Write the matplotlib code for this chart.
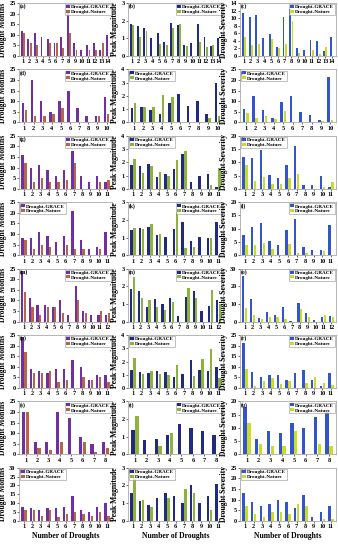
import matplotlib
matplotlib.use("Agg")
import matplotlib.pyplot as plt
import numpy as np

plt.rcParams['font.family'] = ['Liberation Serif', 'DejaVu Serif']
plt.rcParams['font.weight'] = 'bold'

# ---------------- data ----------------
# Row 1 (a,b,c)
a_grace = [12, 8, 11, 9, 8, 6, 9, 21, 6, 3, 5, 6, 3, 10]
a_nature = [11, 6, 5, 0, 6, 6, 4, 11, 3, 0, 3, 3, 6, 0]
b_grace = [1.8, 1.7, 1.6, 1.0, 1.3, 0.8, 1.85, 1.75, 0.6, 0.75, 1.8, 1.05, 0.55, 1.0]
b_nature = [1.75, 1.05, 1.4, 0, 0.7, 0.65, 1.6, 1.8, 0.55, 0, 0.8, 0.5, 0.65, 0]
c_grace = [11.3, 10.2, 10.8, 4.7, 5.7, 2.3, 10.4, 12.5, 2.1, 1.5, 4.2, 4.0, 1.3, 4.9]
c_nature = [5.0, 3.0, 3.1, 0, 4.4, 2.0, 3.1, 9.3, 0.8, 0, 1.5, 0.6, 2.4, 0]
# Row 2 (d,e,f)
d_grace = [9, 20, 10, 5, 10, 15, 7, 3, 3, 12]
d_nature = [6, 3, 3, 4, 7, 0, 0, 0, 3, 4]
e_grace = [1.1, 1.15, 0.95, 0.6, 1.5, 2.15, 1.25, 1.6, 0.6, 3.0]
e_nature = [1.45, 1.15, 1.15, 2.1, 1.95, 0, 0, 0, 0.3, 0.45]
f_grace = [6.2, 12.5, 5.8, 2.0, 9.5, 12.3, 5.0, 3.5, 1.0, 21.5]
f_nature = [4.5, 2.3, 3.0, 1.5, 5.5, 0, 0, 0, 0.5, 1.0]
# Row 3 (g,h,i)
g_grace = [16, 10, 11, 9, 6, 9, 18, 6, 3, 6, 3]
g_nature = [12, 3, 5, 3, 3, 4, 12, 0, 0, 3, 4]
h_grace = [1.8, 1.75, 1.85, 0.9, 1.15, 1.5, 2.6, 0.5, 1.0, 1.15, 0.15]
h_nature = [2.25, 1.2, 1.75, 1.3, 0.95, 2.15, 2.85, 0, 0, 0.25, 1.6]
i_grace = [12, 11.5, 14.5, 5.3, 4.2, 9, 16, 1.5, 1.5, 5, 0.5]
i_nature = [9, 3, 4.5, 2, 2, 4, 5.5, 0, 0, 0.5, 2.5]
# Row 4 (j,k,l)
j_grace = [8, 8, 11, 9, 6, 9, 21, 7, 3, 4, 11]
j_nature = [7, 3, 5, 4, 0, 5, 3, 3, 0, 3, 0]
k_grace = [1.45, 1.55, 1.6, 1.15, 1.05, 1.5, 1.9, 0.8, 1.05, 0.95, 1.9]
k_nature = [1.55, 1.5, 1.75, 1.2, 0, 2.45, 0.4, 0.45, 0, 0.95, 0]
l_grace = [7.5, 10.5, 12.3, 5.2, 4, 9.5, 13.8, 3, 2, 1.8, 11.5]
l_nature = [3.8, 4, 4.5, 2.3, 0, 4.3, 1, 0.8, 0, 1.5, 0]
# Row 5 (m,n,o)
m_grace = [24, 11, 8, 8, 7, 10, 3, 17, 5, 3, 3, 3]
m_nature = [14, 7, 3, 7, 7, 4, 0, 10, 4, 0, 5, 4]
n_grace = [1.85, 1.75, 0.8, 1.3, 1.0, 1.35, 0.3, 1.4, 1.75, 0.6, 0.9, 1.25]
n_nature = [2.55, 1.35, 1.2, 0.85, 0.65, 1.1, 0, 1.9, 1.35, 0, 1.8, 1.0]
o_grace = [26, 13, 2, 5.5, 3.5, 8, 0.5, 10.5, 5, 1, 2.5, 3]
o_nature = [7.5, 3.5, 1.5, 2.5, 2.5, 1.5, 0, 7, 2.5, 0, 4, 2.5]
# Row 6 (p,q,r)
p_grace = [24, 9, 8, 7, 9, 9, 13, 10, 4, 6, 6]
p_nature = [17, 7, 7, 8, 3, 4, 0, 5, 4, 5, 3]
q_grace = [1.35, 1.2, 1.15, 1.3, 1.2, 0.85, 1.05, 2.15, 1.35, 1.3, 1.6]
q_nature = [2.3, 1.05, 1.3, 1.05, 1.0, 1.7, 0, 0.9, 2.2, 2.95, 0.75]
r_grace = [21, 7.5, 5, 6, 6, 4, 7, 8.5, 4, 1, 7]
r_nature = [9, 1, 3.5, 4.5, 2, 3.5, 0, 2.5, 5, 2.5, 1.5]
# Row 7 (s,t,u)
s_grace = [20, 6, 6, 20, 17, 8, 5, 6]
s_nature = [20, 3, 2, 6, 0, 6, 1, 3]
t_grace = [1.4, 0.8, 0.9, 1.1, 1.7, 1.5, 1.3, 1.1]
t_nature = [2.2, 0, 0.5, 1.2, 0, 0, 0, 0]
u_grace = [18, 6, 9, 8, 12, 10, 14, 16]
u_nature = [12, 4, 3, 3, 9, 0, 4, 3]
# Row 8 (v,w,x)
v_grace = [8, 7, 6, 7, 7, 8, 14, 6, 5, 8, 10]
v_nature = [6, 6, 3, 6, 2, 4, 5, 4, 3, 5, 3]
w_grace = [1.6, 1.1, 0.9, 1.3, 1.6, 1.4, 1.0, 2.0, 1.0, 1.4, 2.1]
w_nature = [2.6, 1.2, 0.8, 0, 1.3, 0, 1.8, 1.6, 0, 0.6, 0]
x_grace = [13, 9, 7, 8, 10, 9, 6, 12, 2, 4, 7]
x_nature = [7, 3, 2, 4, 4, 3, 8, 7, 0, 1, 1]

panel_letters = list("abcdefghijklmnopqrstuvwx")
grace_series = [a_grace, b_grace, c_grace, d_grace, e_grace, f_grace, g_grace, h_grace,
                i_grace, j_grace, k_grace, l_grace, m_grace, n_grace, o_grace, p_grace,
                q_grace, r_grace, s_grace, t_grace, u_grace, v_grace, w_grace, x_grace]
nature_series = [a_nature, b_nature, c_nature, d_nature, e_nature, f_nature, g_nature, h_nature,
                 i_nature, j_nature, k_nature, l_nature, m_nature, n_nature, o_nature, p_nature,
                 q_nature, r_nature, s_nature, t_nature, u_nature, v_nature, w_nature, x_nature]
ylims = [25, 3, 14, 25, 4, 25, 25, 4, 20, 25, 3, 20,
         25, 3, 30, 25, 4, 25, 25, 3, 20, 30, 3, 25]
ysteps = [5, 1, 2, 5, 1, 5, 5, 1, 5, 5, 1, 5,
          5, 1, 10, 5, 1, 5, 5, 1, 5, 5, 1, 5]
legend_locs = ['upper right', 'upper right', 'upper right',
               'upper right', 'upper left', 'upper left',
               'upper right', 'upper left', 'upper left',
               'upper left', 'upper right', 'upper right',
               'upper right', 'upper right', 'upper right',
               'upper right', 'upper left', 'upper right',
               'upper right', 'upper right', 'upper right',
               'upper left', 'upper left', 'upper left']
ylabels = ['Drought Months', 'Peak Magnitude', 'Drought Severity']
grace_colors = ['#7030A0', '#1F2A80', '#3355CC']
nature_colors = ['#B5654A', '#8DB33C', '#C8DC28']

W, H = 338, 550
fig = plt.figure(figsize=(W / 100, H / 100), dpi=100)
col_left = [19, 128, 240]
col_w = [93, 95, 96]
row_top0 = 3
row_pitch = 66.4
ax_h = 53

for idx in range(24):
    r, c = divmod(idx, 3)
    top = row_top0 + r * row_pitch
    ax = fig.add_axes([col_left[c] / W, 1 - (top + ax_h) / H, col_w[c] / W, ax_h / H])
    g = grace_series[idx]
    n = nature_series[idx]
    x = np.arange(1, len(g) + 1)
    bw = 0.28
    ax.bar(x - bw / 2 - 0.03, g, width=bw, color=grace_colors[c], label='Drought-GRACE')
    ax.bar(x + bw / 2 + 0.03, n, width=bw, color=nature_colors[c], label='Drought-Nature')
    ax.set_xlim(0.4, len(g) + 0.6)
    ax.set_ylim(0, ylims[idx])
    ax.set_yticks(np.arange(0, ylims[idx] + 0.001, ysteps[idx]))
    ax.set_xticks(x)
    ax.tick_params(labelsize=4.5, length=1.5, width=0.4, pad=1)
    for lab in ax.get_xticklabels() + ax.get_yticklabels():
        lab.set_fontweight('bold')
    for sp in ax.spines.values():
        sp.set_color('#999999')
        sp.set_linewidth(0.5)
    ax.set_ylabel(ylabels[c], fontsize=5.5, fontweight='bold', labelpad=1.5)
    ax.text(0.01, 0.99, '(' + panel_letters[idx] + ')', transform=ax.transAxes,
            fontsize=4.0, fontweight='bold', va='top', ha='left')
    leg = ax.legend(loc=legend_locs[idx], fontsize=3.7, frameon=True, fancybox=False,
                    handlelength=0.7, handleheight=0.5, handletextpad=0.3,
                    borderpad=0.15, labelspacing=0.1, borderaxespad=0.25)
    leg.get_frame().set_linewidth(0.4)
    leg.get_frame().set_edgecolor('#777777')
    for t in leg.get_texts():
        t.set_fontweight('bold')
    if r == 7:
        ax.set_xlabel('Number of Droughts', fontsize=5.5, fontweight='bold', labelpad=2)

fig.savefig('out.png', dpi=100)
